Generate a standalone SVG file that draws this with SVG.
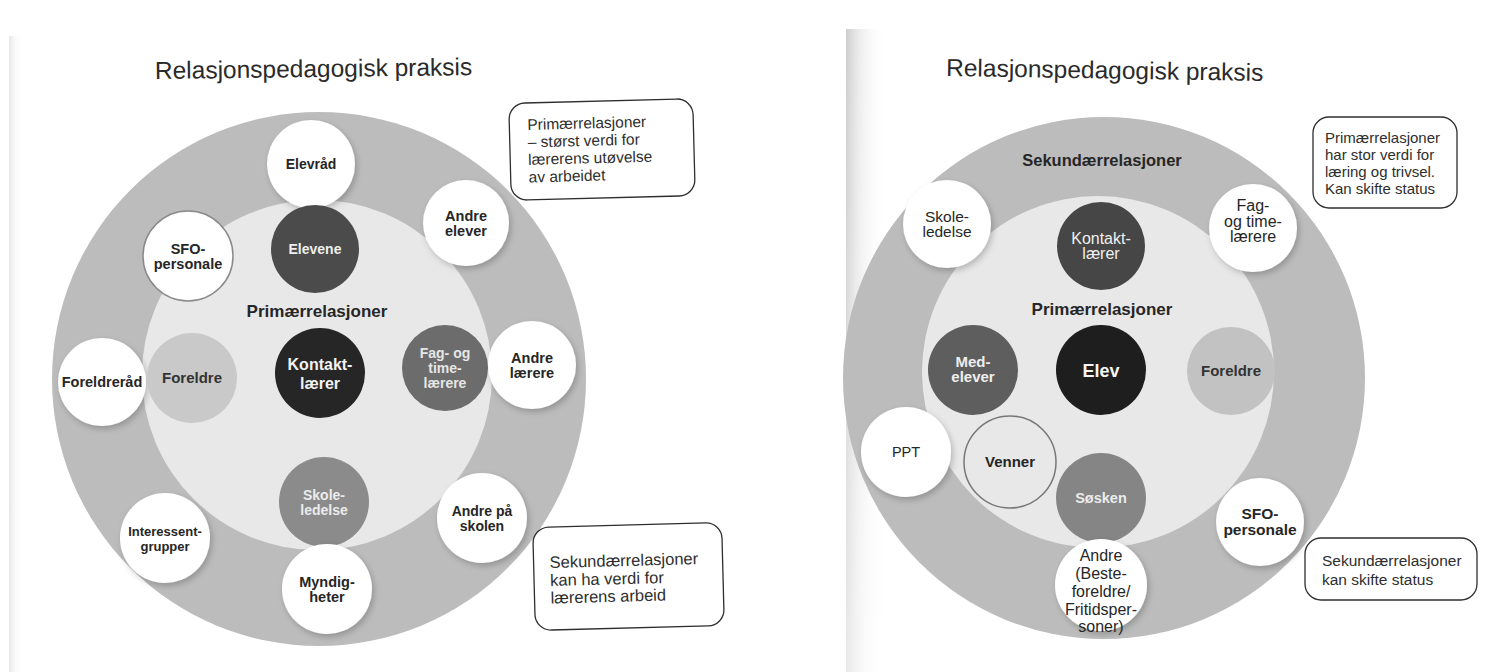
<svg xmlns="http://www.w3.org/2000/svg" width="1487" height="672" viewBox="0 0 1487 672">
<defs>
<filter id="sh" x="-30%" y="-30%" width="160%" height="160%">
<feDropShadow dx="2" dy="3" stdDeviation="3" flood-color="#000" flood-opacity="0.22"/>
</filter>
<linearGradient id="gut" x1="0" y1="0" x2="1" y2="0">
<stop offset="0" stop-color="#c4c4c4" stop-opacity="0.85"/>
<stop offset="0.35" stop-color="#dcdcdc" stop-opacity="0.5"/>
<stop offset="1" stop-color="#ffffff" stop-opacity="0"/>
</linearGradient>
<linearGradient id="gutv" x1="0" y1="0" x2="0" y2="1">
<stop offset="0" stop-color="#fff" stop-opacity="0"/>
<stop offset="1" stop-color="#fff" stop-opacity="0.55"/>
</linearGradient>
<style>
.outer{fill:#bcbcbc}
.inner{fill:#e8e8e8}
.w{fill:#ffffff;filter:url(#sh)}
.t{font-family:"Liberation Sans",Arial,sans-serif;text-anchor:middle}
.b{font-weight:bold}
.dk{fill:#262626}
.lt{fill:#eeeeee}
.ttl{font-family:"Liberation Sans",Arial,sans-serif;font-size:24.5px;fill:#2a2a2a}
.box{fill:#ffffff;stroke:#2e2e2e;stroke-width:1.3}
.bt{font-family:"Liberation Sans",Arial,sans-serif;fill:#2e2e2e}
</style>
</defs>
<rect width="1487" height="672" fill="#ffffff"/>
<rect x="9" y="36" width="14" height="636" fill="url(#gut)" opacity="0.5"/>
<rect x="846" y="29" width="40" height="643" fill="url(#gut)"/>
<rect x="846" y="29" width="40" height="643" fill="url(#gutv)"/>

<g id="left-diagram">
<text class="ttl" x="155" y="79" transform="rotate(-0.7 155 79)">Relasjonspedagogisk praksis</text>
<g id="l-rings">
<circle class="outer" cx="319" cy="379" r="267"/>
<circle class="inner" cx="317" cy="375" r="175"/>
</g>
<text id="l-label-prim" class="t b dk" x="317" y="317" font-size="17">Primærrelasjoner</text>

<g id="l-elevrad"><circle class="w" cx="311" cy="164" r="44"/><text class="t b dk" x="311" y="169" font-size="14">Elevråd</text></g>
<g id="l-elevene"><circle cx="315" cy="249" r="44" fill="#4b4b4b"/><text class="t b lt" x="315" y="254" font-size="14">Elevene</text></g>
<g id="l-sfo"><circle cx="188" cy="256" r="45" fill="#ffffff" stroke="#8a8a8a" stroke-width="1.5"/><text class="t b dk" x="188" font-size="14.5"><tspan x="188" y="254">SFO-</tspan><tspan x="188" y="268.5">personale</tspan></text></g>
<g id="l-andre-elever"><circle class="w" cx="466" cy="223" r="43"/><text class="t b dk" font-size="14.5"><tspan x="466" y="220.5">Andre</tspan><tspan x="466" y="235.5">elever</tspan></text></g>
<g id="l-foreldrerad"><circle class="w" cx="102" cy="382" r="44"/><text class="t b dk" x="102" y="387" font-size="14.5">Foreldreråd</text></g>
<g id="l-foreldre"><circle cx="192" cy="378" r="45" fill="#c9c9c9"/><text class="t b" x="192" y="383" font-size="15" fill="#333">Foreldre</text></g>
<g id="l-kontaktlaerer"><circle cx="320" cy="373" r="45" fill="#262626"/><text class="t b" font-size="16" fill="#f2f2f2"><tspan x="320" y="370">Kontakt-</tspan><tspan x="320" y="389">lærer</tspan></text></g>
<g id="l-fag"><circle cx="445" cy="368" r="43" fill="#6c6c6c"/><text class="t b" font-size="14" fill="#e6e6e6"><tspan x="445" y="358">Fag- og</tspan><tspan x="445" y="373">time-</tspan><tspan x="445" y="388">lærere</tspan></text></g>
<g id="l-andre-laerere"><circle class="w" cx="532" cy="365" r="44"/><text class="t b dk" font-size="14.5"><tspan x="532" y="362.5">Andre</tspan><tspan x="532" y="377.5">lærere</tspan></text></g>
<g id="l-skoleledelse"><circle cx="324" cy="502" r="45" fill="#8b8b8b"/><text class="t b" font-size="14" fill="#ececec"><tspan x="324" y="499.5">Skole-</tspan><tspan x="324" y="514.5">ledelse</tspan></text></g>
<g id="l-andre-skolen"><circle class="w" cx="482" cy="518" r="45"/><text class="t b dk" font-size="14"><tspan x="482" y="515.5">Andre på</tspan><tspan x="482" y="530.5">skolen</tspan></text></g>
<g id="l-interessent"><circle class="w" cx="165" cy="538" r="45"/><text class="t b dk" font-size="13"><tspan x="165" y="535.5">Interessent-</tspan><tspan x="165" y="550.5">grupper</tspan></text></g>
<g id="l-myndig"><circle class="w" cx="327" cy="589" r="45"/><text class="t b dk" font-size="14.5"><tspan x="327" y="586.5">Myndig-</tspan><tspan x="327" y="601.5">heter</tspan></text></g>

<g id="l-note-prim" transform="rotate(-1.5 602 150)">
<rect class="box" x="510" y="101" width="184" height="97" rx="16"/>
<text class="bt" font-size="15.5"><tspan x="528" y="128">Primærrelasjoner</tspan><tspan x="528" y="145.5">– størst verdi for</tspan><tspan x="528" y="163">lærerens utøvelse</tspan><tspan x="528" y="180.5">av arbeidet</tspan></text>
</g>
<g id="l-note-sek" transform="rotate(-1.5 628 577)">
<rect class="box" x="534" y="525" width="189" height="103" rx="16"/>
<text class="bt" font-size="16.5"><tspan x="550" y="566">Sekundærrelasjoner</tspan><tspan x="550" y="584">kan ha verdi for</tspan><tspan x="550" y="601.5">lærerens arbeid</tspan></text>
</g>
</g>

<g id="right-diagram">
<text class="ttl" x="946" y="76" transform="rotate(0.9 946 76)">Relasjonspedagogisk praksis</text>
<g id="r-rings">
<circle class="outer" cx="1104" cy="378" r="261"/>
<circle class="inner" cx="1098" cy="372" r="176"/>
</g>
<text id="r-label-sek" class="t b dk" x="1102" y="166" font-size="16.5">Sekundærrelasjoner</text>
<text id="r-label-prim" class="t b dk" x="1102" y="315" font-size="17">Primærrelasjoner</text>

<g id="r-skoleledelse"><circle class="w" cx="947" cy="224" r="44"/><text class="t dk" font-size="15.5"><tspan x="947" y="221.5">Skole-</tspan><tspan x="947" y="236.5">ledelse</tspan></text></g>
<g id="r-kontaktlaerer"><circle cx="1101" cy="246" r="44" fill="#464646"/><text class="t" font-size="16" fill="#f0f0f0"><tspan x="1101" y="243.5">Kontakt-</tspan><tspan x="1101" y="258.5">lærer</tspan></text></g>
<g id="r-fag"><circle class="w" cx="1253" cy="228" r="44"/><text class="t dk" font-size="16"><tspan x="1253" y="211">Fag-</tspan><tspan x="1253" y="226.5">og time-</tspan><tspan x="1253" y="242">lærere</tspan></text></g>
<g id="r-medelever"><circle cx="973" cy="370" r="45" fill="#5e5e5e"/><text class="t b lt" font-size="15"><tspan x="973" y="367">Med-</tspan><tspan x="973" y="382">elever</tspan></text></g>
<g id="r-elev"><circle cx="1101" cy="370" r="45" fill="#1e1e1e"/><text class="t b" x="1101" y="376.5" font-size="18" fill="#f5f5f5">Elev</text></g>
<g id="r-foreldre"><circle cx="1231" cy="371" r="44" fill="#c2c2c2"/><text class="t b" x="1231" y="376" font-size="15" fill="#333">Foreldre</text></g>
<g id="r-ppt"><circle class="w" cx="906" cy="452" r="45"/><text class="t dk" x="906" y="457" font-size="14.5">PPT</text></g>
<g id="r-venner"><circle cx="1010" cy="462" r="46" fill="#e8e8e8" stroke="#777" stroke-width="1.5"/><text class="t b dk" x="1010" y="467" font-size="15">Venner</text></g>
<g id="r-sosken"><circle cx="1101" cy="498" r="45" fill="#858585"/><text class="t b" x="1101" y="503" font-size="14.5" fill="#ececec">Søsken</text></g>
<g id="r-andre"><circle class="w" cx="1101" cy="585" r="46"/><text class="t dk" font-size="16"><tspan x="1101" y="561">Andre</tspan><tspan x="1101" y="579">(Beste-</tspan><tspan x="1101" y="597">foreldre/</tspan><tspan x="1101" y="615">Fritidsper-</tspan><tspan x="1101" y="632">soner)</tspan></text></g>
<g id="r-sfo"><circle class="w" cx="1260" cy="522" r="44"/><text class="t b dk" font-size="15.5"><tspan x="1260" y="519">SFO-</tspan><tspan x="1260" y="535">personale</tspan></text></g>

<g id="r-note-prim">
<rect class="box" x="1313" y="117" width="144" height="91" rx="16"/>
<text class="bt" font-size="15"><tspan x="1325" y="143">Primærrelasjoner</tspan><tspan x="1325" y="160">har stor verdi for</tspan><tspan x="1325" y="177">læring og trivsel.</tspan><tspan x="1325" y="194">Kan skifte status</tspan></text>
</g>
<g id="r-note-sek">
<rect class="box" x="1305" y="538" width="172" height="62" rx="16"/>
<text class="bt" font-size="15.5"><tspan x="1322" y="566">Sekundærrelasjoner</tspan><tspan x="1322" y="585">kan skifte status</tspan></text>
</g>
</g>
<g id="connectors"/>
</svg>
